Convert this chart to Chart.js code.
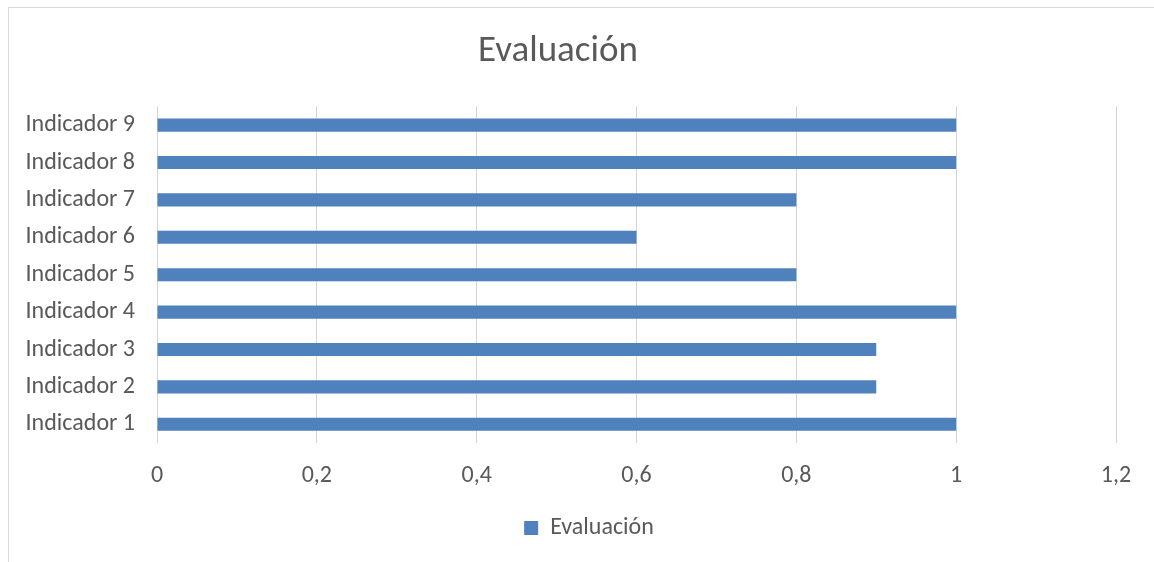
<!DOCTYPE html>
<html>
<head>
<meta charset="utf-8">
<script src="https://cdn.jsdelivr.net/npm/chart.js@4/dist/chart.umd.min.js"></script>
<style>
  body { margin: 0; background: #fff; }
  #wrap { width: 1154px; height: 562px; }
</style>
</head>
<body>
<div id="wrap"><canvas id="grafico" width="1154" height="562"></canvas></div>
<script>
// datos del grafico
const indicadores = ['Indicador 1', 'Indicador 2', 'Indicador 3', 'Indicador 4', 'Indicador 5',
                     'Indicador 6', 'Indicador 7', 'Indicador 8', 'Indicador 9']
const evaluacion = [1, 0.9, 0.9, 1, 0.8, 0.6, 0.8, 1, 1]
const ejeMin = 0
const ejeMax = 1.2
const ejePaso = 0.2

const fuente = 'Carlito, Lato, sans-serif'
const gris = '#595959'

// marco gris alrededor del grafico
const marco = {
    id: 'marco',
    beforeDraw(chart) {
        const ctx = chart.ctx
        ctx.save()
        ctx.fillStyle = '#fff'
        ctx.fillRect(0, 0, chart.width, chart.height)
        ctx.strokeStyle = '#d9d9d9'
        ctx.lineWidth = 1
        ctx.strokeRect(8.5, 7.5, chart.width + 20, chart.height + 20)
        ctx.restore()
    }
}

// mueve la leyenda un poco a la derecha, como en el original
const leyendaDerecha = {
    id: 'leyendaDerecha',
    afterLayout(chart) {
        chart.legend.left += 31
        chart.legend.right += 31
    }
}

const ctx = document.getElementById('grafico')
new Chart(ctx, {
    type: 'bar',
    data: {
        labels: indicadores,
        datasets: [{
            label: 'Evaluación',
            data: evaluacion,
            backgroundColor: '#4f81bd',
            borderWidth: 0,
            categoryPercentage: 0.35,
            barPercentage: 1
        }]
    },
    options: {
        indexAxis: 'y',
        responsive: false,
        animation: false,
        layout: { padding: { left: 0, right: 38, top: 0, bottom: 12 } },
        plugins: {
            title: {
                display: true,
                text: 'Evaluación',
                color: gris,
                font: { family: fuente, size: 37, weight: 'normal' },
                padding: { top: 30, bottom: 32 }
            },
            legend: {
                position: 'bottom',
                labels: {
                    color: gris,
                    boxWidth: 14,
                    boxHeight: 14,
                    padding: 10,
                    font: { family: fuente, size: 24 }
                }
            },
            tooltip: { enabled: false }
        },
        scales: {
            x: {
                min: ejeMin,
                max: ejeMax,
                ticks: {
                    stepSize: ejePaso,
                    color: gris,
                    padding: 19,
                    font: { family: fuente, size: 24 },
                    callback: v => Number(v.toFixed(1)).toString().replace('.', ',')
                },
                grid: { color: '#d4d4d4', drawTicks: false },
                border: { display: false },
                afterFit(scale) { scale.height = 63 }
            },
            y: {
                reverse: true,
                ticks: {
                    color: gris,
                    padding: 22,
                    font: { family: fuente, size: 24 }
                },
                grid: { display: false, drawTicks: false },
                border: { display: false },
                afterFit(scale) { scale.width = 157 }
            }
        }
    },
    plugins: [marco, leyendaDerecha]
})
</script>
</body>
</html>
